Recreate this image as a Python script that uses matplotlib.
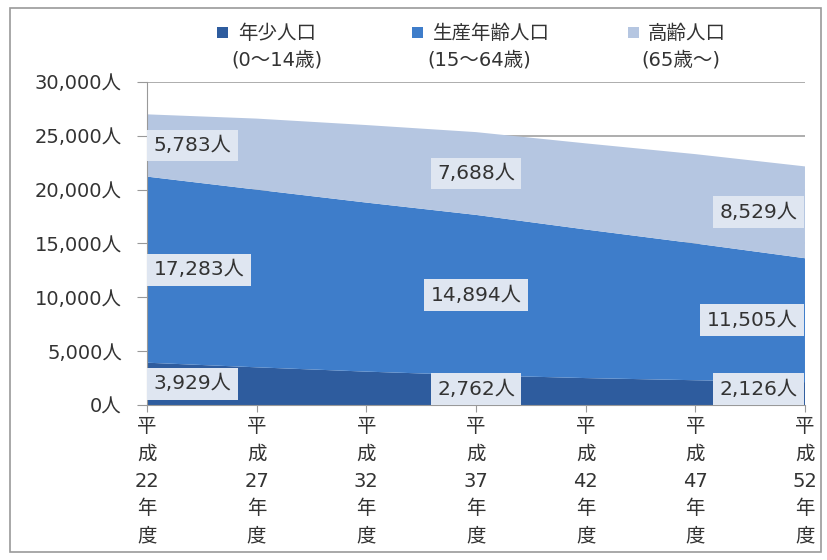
import matplotlib
matplotlib.use('Agg')
import matplotlib.pyplot as plt
from matplotlib.patches import Rectangle
import numpy as np

plt.rcParams['font.family'] = ['DejaVu Sans', 'Noto Sans CJK JP']

# data (平成 fiscal years, people)
years = ['22', '27', '32', '37', '42', '47', '52']
young = [3929, 3500, 3100, 2762, 2500, 2300, 2126]        # 0-14
working = [17283, 16500, 15700, 14894, 13800, 12700, 11505]  # 15-64
elderly = [5783, 6600, 7200, 7688, 8000, 8300, 8529]      # 65+
series_names = ['年少人口', '生産年齢人口', '高齢人口']
series_ages = ['(0〜14歳)', '(15〜64歳)', '(65歳〜)']
colors = ['#2e5c9e', '#3e7dca', '#b5c6e1']
labeled_idx = [0, 3, 6]

x = np.arange(len(years))
fig = plt.figure(figsize=(8.28, 5.6), dpi=100)
ax = fig.add_axes([0.1775, 0.2768, 0.7947, 0.5768])

ax.stackplot(x, young, working, elderly, colors=colors, linewidth=0, zorder=2)

ax.set_xlim(0, len(years) - 1)
ax.set_ylim(0, 30000)
ax.set_yticks(range(0, 30001, 5000))
ax.set_yticklabels([f'{v:,}人' for v in range(0, 30001, 5000)], fontsize=14, color='#333333')
ax.set_xticks(x)
ax.set_xticklabels([f'平\n成\n{y}\n年\n度' for y in years], fontsize=14,
                   color='#333333', linespacing=1.55)
ax.tick_params(axis='x', length=5, color='#999999', pad=4)
ax.tick_params(axis='y', length=7, color='#999999', pad=11)
ax.grid(axis='y', color='#a0a0a0', linewidth=1.2, zorder=1)
ax.set_axisbelow(True)
for s in ['top', 'right']:
    ax.spines[s].set_visible(False)
ax.spines['left'].set_color('#999999')
ax.spines['bottom'].set_color('#999999')

# value labels
box = dict(boxstyle='square,pad=0.32', facecolor='#dfe6f1', edgecolor='none')
for i in labeled_idx:
    if i == 0:
        ha, xp = 'left', x[i] + 0.06
    elif i == len(years) - 1:
        ha, xp = 'right', x[i] - 0.07
    else:
        ha, xp = 'center', x[i]
    mids = [max(young[i] / 2, 1450),
            young[i] + working[i] / 2,
            young[i] + working[i] + elderly[i] / 2]
    vals = [young[i], working[i], elderly[i]]
    for yv, v in zip(mids, vals):
        ax.text(xp, yv, f'{v:,}人', ha=ha, va='center', fontsize=14.5,
                color='#333333', bbox=box, zorder=5)

# legend
leg_sq = [0.2620, 0.4970, 0.7590]
leg_t1 = [0.2874, 0.523, 0.7826]
leg_t2 = [0.280, 0.5157, 0.775]
for sx, t1, t2, c, n, a in zip(leg_sq, leg_t1, leg_t2, colors, series_names, series_ages):
    fig.patches.append(Rectangle((sx, 0.932), 0.0133, 0.0196, transform=fig.transFigure,
                                 facecolor=c, edgecolor='none'))
    fig.text(t1, 0.941, n, fontsize=14, va='center', color='#333333')
    fig.text(t2, 0.893, a, fontsize=14, va='center', color='#333333')

# outer frame
fig.patches.append(Rectangle((0.012, 0.014), 0.979, 0.972, transform=fig.transFigure,
                             facecolor='none', edgecolor='#9a9a9a', linewidth=1.2))

fig.savefig('out.png', dpi=100)
